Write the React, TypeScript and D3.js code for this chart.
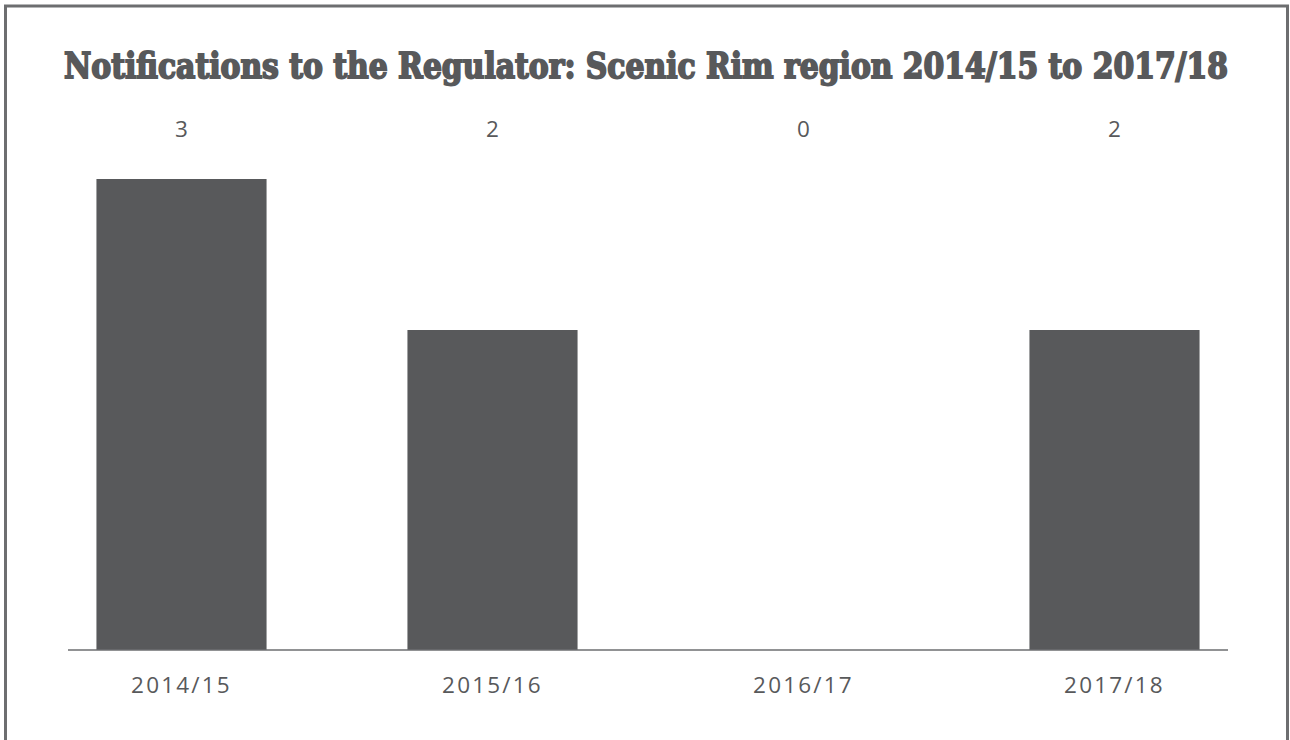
import React from "react";
import * as d3 from "d3";

const years = ["2014/15", "2015/16", "2016/17", "2017/18"];
const notifications = [3, 2, 0, 2];
const title = "Notifications to the Regulator: Scenic Rim region 2014/15 to 2017/18";

const W = 1290;
const H = 740;
const grey = "#58595b";

const App = () => {
  // bands of 311px, bars 170px wide
  const x = d3
    .scaleBand<string>()
    .domain(years)
    .range([26, 1270])
    .paddingInner(0.453)
    .paddingOuter(0.2265);

  // zero sits a little above the axis line in the original
  const y = d3.scaleLinear().domain([0, 3]).range([632, 179]);
  const baseY = 650;

  const labelFont = "'Open Sans', 'Noto Sans', sans-serif";

  return (
    <svg
      width={W}
      height={H}
      style={{ position: "absolute", left: 0, top: 0, background: "#fff" }}
    >
      <rect x={5.5} y={6} width={1282} height={800} fill="none" stroke="#6d6e70" strokeWidth={3} />

      {/* heavy display title: condensed serif, stretched vertically */}
      <g transform="translate(646,78) scale(1,1.17)">
        <text
          x={0}
          y={0}
          textAnchor="middle"
          fill={grey}
          stroke={grey}
          strokeWidth={1.5}
          fontFamily="'DejaVu Serif Condensed', 'DejaVu Serif', serif"
          fontWeight="bold"
          fontSize={30}
          textLength={1164}
          lengthAdjust="spacingAndGlyphs"
        >
          {title}
        </text>
      </g>

      {years.map((yr, i) => {
        const v = notifications[i];
        const cx = (x(yr) ?? 0) + x.bandwidth() / 2;
        return (
          <g key={yr}>
            {v > 0 && (
              <rect x={x(yr)} y={y(v)} width={x.bandwidth()} height={baseY - y(v)} fill={grey} />
            )}
            <text
              x={cx}
              y={137}
              textAnchor="middle"
              fill={grey}
              fontFamily={labelFont}
              fontSize={22.5}
            >
              {v}
            </text>
            <text
              x={cx}
              y={693}
              textAnchor="middle"
              fill={grey}
              fontFamily={labelFont}
              fontSize={22.5}
              letterSpacing={2.2}
            >
              {yr}
            </text>
          </g>
        );
      })}

      <line x1={68} x2={1228} y1={baseY} y2={baseY} stroke="#6d6e70" strokeWidth={1.5} />
    </svg>
  );
};

export default App;
